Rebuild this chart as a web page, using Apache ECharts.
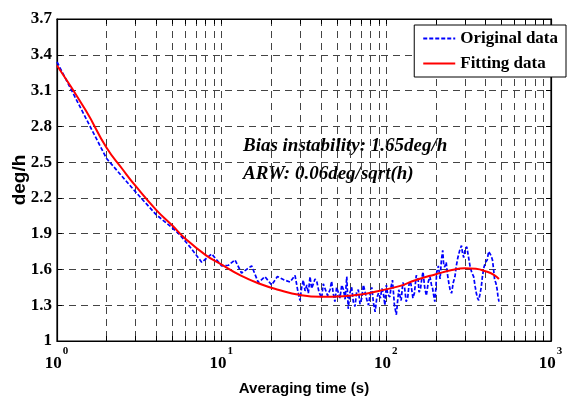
<!DOCTYPE html>
<html>
<head>
<meta charset="utf-8">
<script src="https://cdn.jsdelivr.net/npm/echarts@6/dist/echarts.min.js"></script>
<style>
  html, body { margin: 0; padding: 0; background: #fff; }
  #chart { width: 581px; height: 399px; }
</style>
</head>
<body>
<div id="chart"></div>
<script>
// averaging time (s) and Allan deviation (deg/h)
const origTime = [1, 2, 3, 4, 5, 5.58, 6.5, 7.56, 8.7, 10, 11, 12.05, 13.2, 15.2, 16.7, 18.3, 20.1, 21.8, 23.7, 26,
  27.9, 29, 29.9, 30.6, 31.3, 32.1, 32.9, 33.6, 34.4, 35.2, 36, 36.9, 37.8, 39, 40.5, 41.4, 42.4, 44, 45.5, 46.5,
  47.6, 48.7, 49.9, 51, 52.3, 53.6, 54.9, 56.2, 57.5, 58.7, 60, 61.6, 63, 64.5, 66, 67.6, 69.2, 70.9, 72.6, 74.3,
  76, 77.9, 79.7, 81.6, 83.5, 85.5, 87.5, 89.6, 92, 94, 95.7, 98, 100, 102, 105, 107, 109, 112, 115, 117,
  119, 121, 123, 126, 129, 132, 135, 138, 141, 145, 148, 152, 156, 158, 161, 164, 167, 171, 175, 180,
  184, 188, 191, 194, 197, 200, 202, 207, 212, 216, 220, 223, 226, 231, 235, 240, 244, 249, 255, 261,
  266, 272, 279, 286, 290, 295, 301, 308, 315, 323, 331, 339, 346, 352, 358, 364, 370, 377, 384, 392,
  400, 410, 418, 427, 434, 441, 448, 455, 462, 470, 476, 483];
const origValue = [3.34, 2.53, 2.25, 2.06, 1.95, 1.89, 1.78, 1.66, 1.73, 1.63, 1.635, 1.68, 1.57, 1.63, 1.49, 1.54, 1.47, 1.54, 1.515, 1.495,
  1.55, 1.42, 1.34, 1.45, 1.51, 1.42, 1.47, 1.4, 1.54, 1.44, 1.45, 1.52, 1.5, 1.41, 1.36, 1.48, 1.47, 1.38, 1.43, 1.5,
  1.4, 1.33, 1.45, 1.41, 1.36, 1.47, 1.43, 1.35, 1.54, 1.27, 1.4, 1.45, 1.33, 1.29, 1.41, 1.43, 1.31, 1.36, 1.47, 1.48,
  1.35, 1.3, 1.39, 1.45, 1.32, 1.245, 1.36, 1.4, 1.36, 1.44, 1.41, 1.3, 1.47, 1.39, 1.37, 1.46, 1.51, 1.3, 1.22, 1.33,
  1.43, 1.38, 1.34, 1.49, 1.45, 1.33, 1.37, 1.5, 1.48, 1.36, 1.4, 1.55, 1.52, 1.41, 1.43, 1.52, 1.58, 1.45, 1.38, 1.5,
  1.54, 1.47, 1.44, 1.38, 1.33, 1.45, 1.57, 1.63, 1.52, 1.68, 1.76, 1.64, 1.62, 1.66, 1.56, 1.48, 1.43, 1.4, 1.49, 1.54,
  1.63, 1.7, 1.76, 1.8, 1.74, 1.7, 1.77, 1.79, 1.71, 1.62, 1.57, 1.54, 1.46, 1.4, 1.36, 1.34, 1.39, 1.45, 1.55, 1.62,
  1.66, 1.68, 1.75, 1.73, 1.71, 1.68, 1.6, 1.51, 1.49, 1.44, 1.38, 1.33];
const fitTime = [1, 1.5, 2, 2.5, 3, 4, 5, 6, 8, 10, 13, 17, 22, 30, 40, 55, 70, 90, 120, 150, 200, 250, 300, 350, 400, 450, 483];
const fitValue = [3.31, 2.93, 2.62, 2.44, 2.3, 2.1, 1.97, 1.86, 1.72, 1.64, 1.55, 1.48, 1.43, 1.385, 1.37, 1.375, 1.39, 1.42, 1.46, 1.51,
  1.56, 1.595, 1.61, 1.605, 1.585, 1.555, 1.52];

const xLabelValues = [1, 10, 100, 1000];
const xTickValues = [1, 2, 3, 4, 5, 6, 7, 8, 9, 10, 20, 30, 40, 50, 60, 70, 80, 90, 100,
  200, 300, 400, 500, 600, 700, 800, 900, 1000];
const yTickValues = [1, 1.3, 1.6, 1.9, 2.2, 2.5, 2.8, 3.1, 3.4, 3.7];

const seriesNames = ['Original data', 'Fitting data'];

const chart = echarts.init(document.getElementById('chart'));
const serif = 'Liberation Serif';
const sans = 'Liberation Sans';
const gridLine = { type: [7, 5], color: '#444', width: 1 };
const tickStyle = { color: '#000' };

const option = {
  animation: false,
  backgroundColor: '#fff',
  grid: {
    left: 57, right: 30, top: 19, bottom: 58,
    outerBoundsMode: 'none',
    show: true, borderColor: '#000', borderWidth: 1.2
  },
  legend: {
    orient: 'vertical',
    right: 15,
    top: 25,
    backgroundColor: '#fff',
    borderColor: '#000',
    borderWidth: 1,
    padding: [5, 8, 5, 8],
    itemWidth: 32,
    itemHeight: 12,
    itemGap: 8,
    itemStyle: { opacity: 0 },
    textStyle: { fontFamily: serif, fontWeight: 'bold', fontSize: 17, color: '#000' },
    data: seriesNames
  },
  xAxis: [
    {
      type: 'log',
      logBase: 10,
      min: 1,
      max: 1000,
      name: 'Averaging time (s)',
      nameLocation: 'middle',
      nameGap: 40,
      nameTextStyle: { fontFamily: sans, fontWeight: 'bold', fontSize: 15, color: '#000' },
      axisLine: { lineStyle: { color: '#000', width: 1.2 } },
      axisTick: { inside: true, length: 5, customValues: xTickValues, lineStyle: tickStyle },
      axisLabel: {
        customValues: xLabelValues,
        margin: 5,
        padding: [0, 1, 0, 0],
        color: '#000',
        formatter: function (v) {
          return '{b|10}{s|' + Math.round(Math.log10(v)) + '}';
        },
        rich: {
          b: { fontFamily: serif, fontWeight: 'bold', fontSize: 17, color: '#000', lineHeight: 26, verticalAlign: 'bottom' },
          s: { fontFamily: serif, fontWeight: 'bold', fontSize: 11, color: '#000', lineHeight: 12, verticalAlign: 'top', padding: [0, 0, 0, 1] }
        }
      },
      splitLine: { show: true, lineStyle: gridLine }
    },
    {
      type: 'log',
      logBase: 10,
      min: 1,
      max: 1000,
      position: 'top',
      axisLine: { lineStyle: { color: '#000', width: 1.2 } },
      axisTick: { inside: true, length: 5, customValues: xTickValues, lineStyle: tickStyle },
      axisLabel: { show: false },
      splitLine: { show: false }
    }
  ],
  yAxis: [
    {
      type: 'value',
      min: 1,
      max: 3.7,
      name: 'deg/h',
      nameLocation: 'middle',
      nameGap: 28,
      nameMoveOverlap: false,
      nameTextStyle: { fontFamily: sans, fontWeight: 'bold', fontSize: 19, color: '#000' },
      axisLine: { show: true, lineStyle: { color: '#000', width: 1.2 } },
      axisTick: { show: true, inside: true, length: 5, customValues: yTickValues, lineStyle: tickStyle },
      axisLabel: {
        customValues: yTickValues,
        margin: 5,
        fontFamily: serif,
        fontWeight: 'bold',
        fontSize: 17,
        color: '#000',
        formatter: function (v) { return String(+v.toFixed(1)); }
      },
      splitLine: { show: true, lineStyle: gridLine }
    },
    {
      type: 'value',
      min: 1,
      max: 3.7,
      position: 'right',
      axisLine: { show: true, lineStyle: { color: '#000', width: 1.2 } },
      axisTick: { show: true, inside: true, length: 5, customValues: yTickValues, lineStyle: tickStyle },
      axisLabel: { show: false },
      splitLine: { show: false }
    }
  ],
  graphic: [
    { type: 'text', left: 243, top: 137, style: { text: 'Bias instability: 1.65deg/h', font: 'italic bold 19px "Liberation Serif"', fill: '#000' } },
    { type: 'text', left: 243, top: 165, style: { text: 'ARW: 0.06deg/sqrt(h)', font: 'italic bold 19px "Liberation Serif"', fill: '#000' } }
  ],
  series: [
    {
      name: seriesNames[0],
      type: 'line',
      symbol: 'none',
      lineStyle: { color: '#0000ff', width: 1.7, type: [4, 2] },
      itemStyle: { color: '#0000ff' },
      data: origTime.map((t, i) => [t, origValue[i]])
    },
    {
      name: seriesNames[1],
      type: 'line',
      symbol: 'none',
      smooth: true,
      lineStyle: { color: '#ff0000', width: 2 },
      itemStyle: { color: '#ff0000' },
      data: fitTime.map((t, i) => [t, fitValue[i]])
    }
  ]
};
chart.setOption(option);
</script>
</body>
</html>
